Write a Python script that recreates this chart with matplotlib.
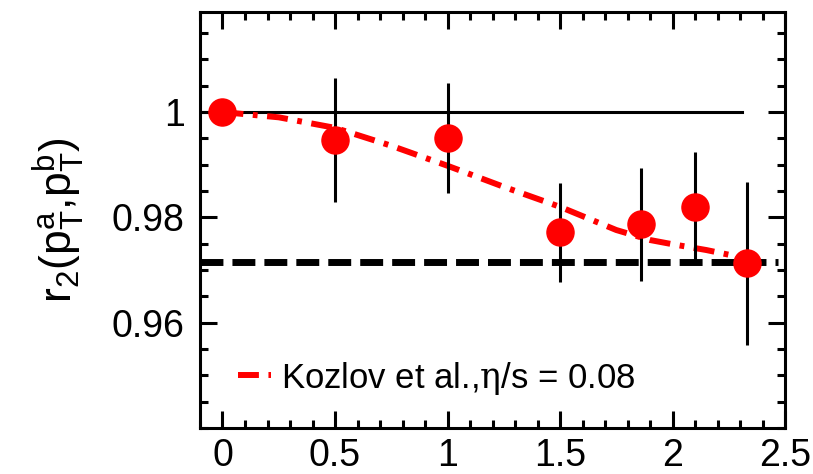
import matplotlib
matplotlib.use("Agg")
import matplotlib.pyplot as plt
from matplotlib.ticker import MultipleLocator

plt.rcParams['font.family'] = ['Liberation Sans', 'DejaVu Sans']
plt.rcParams['mathtext.fontset'] = 'custom'
plt.rcParams['mathtext.rm'] = 'DejaVu Serif'
plt.rcParams['mathtext.sf'] = 'Liberation Sans'
plt.rcParams['mathtext.it'] = 'Liberation Sans:italic'

# data points (pT bins) with errors
pt = [0.0, 0.5, 1.0, 1.5, 1.86, 2.1, 2.33]
r2 = [1.0, 0.9947, 0.9951, 0.9772, 0.9787, 0.9820, 0.9713]
r2_err = [0.0, 0.0118, 0.0105, 0.0094, 0.0107, 0.0105, 0.0155]

# Kozlov et al. curve, eta/s = 0.08
kz_x = [0.0, 0.1, 0.25, 0.5, 0.75, 1.0, 1.25, 1.5, 1.75, 1.9, 2.0, 2.15, 2.33]
kz_y = [1.0, 0.9996, 0.999, 0.997, 0.9936, 0.9898, 0.9858, 0.982, 0.9776, 0.9757, 0.9749, 0.9738, 0.9722]

# reference lines
unity_x = [-0.1, 2.31]
unity_y = [1.0, 1.0]
flat_x = [-0.1, 2.47]
flat_y = [0.9715, 0.9715]

fig = plt.figure(figsize=(8.13, 4.74), dpi=100)
ax = fig.add_axes([0.246, 0.097, 0.7196, 0.8777])

ax.plot(unity_x, unity_y, color="black", lw=2.2, zorder=1)
ax.plot(flat_x, flat_y, color="black", lw=5, dashes=(3.3, 1.3), zorder=1)
kz_line, = ax.plot(kz_x, kz_y, color="red", lw=4.3, dashes=(3.5, 1.6, 0.8, 1.6),
                   zorder=2, label=r"Kozlov et al.,$\mathrm{\eta}$/s = 0.08")
ax.errorbar(pt, r2, yerr=r2_err, fmt="o", color="red", ecolor="black",
            elinewidth=2.2, capsize=0, markersize=19.5, zorder=3)

ax.set_xlim(-0.1, 2.5)
ax.set_ylim(0.94, 1.019)
ax.xaxis.set_minor_locator(MultipleLocator(0.1))
ax.yaxis.set_minor_locator(MultipleLocator(0.005))
ax.set_xticks([0, 0.5, 1, 1.5, 2, 2.5])
ax.set_xticklabels(["0", "0.5", "1", "1.5", "2", "2.5"])
ax.set_yticks([0.96, 0.98, 1.0])
ax.set_yticklabels(["0.96", "0.98", "1"])

for s in ax.spines.values():
    s.set_linewidth(2.2)
ax.tick_params(which="both", direction="in", top=True, right=True, width=2.2)
ax.tick_params(which="major", length=12, labelsize=27)
ax.tick_params(which="minor", length=6)
ax.tick_params(axis="x", pad=7)
ax.tick_params(axis="y", pad=11)

ax.set_ylabel(r"r$_\mathsf{2}$(p$_\mathsf{T}^\mathsf{a}$,p$_\mathsf{T}^\mathsf{b}$)",
              fontsize=32, labelpad=18)

ax.legend(handles=[kz_line], loc="center left", frameon=False, fontsize=25,
          handlelength=0.95, handletextpad=0.3, borderpad=0, borderaxespad=0,
          bbox_to_anchor=(0.065, 0.12))

fig.savefig("out.png", dpi=100)
